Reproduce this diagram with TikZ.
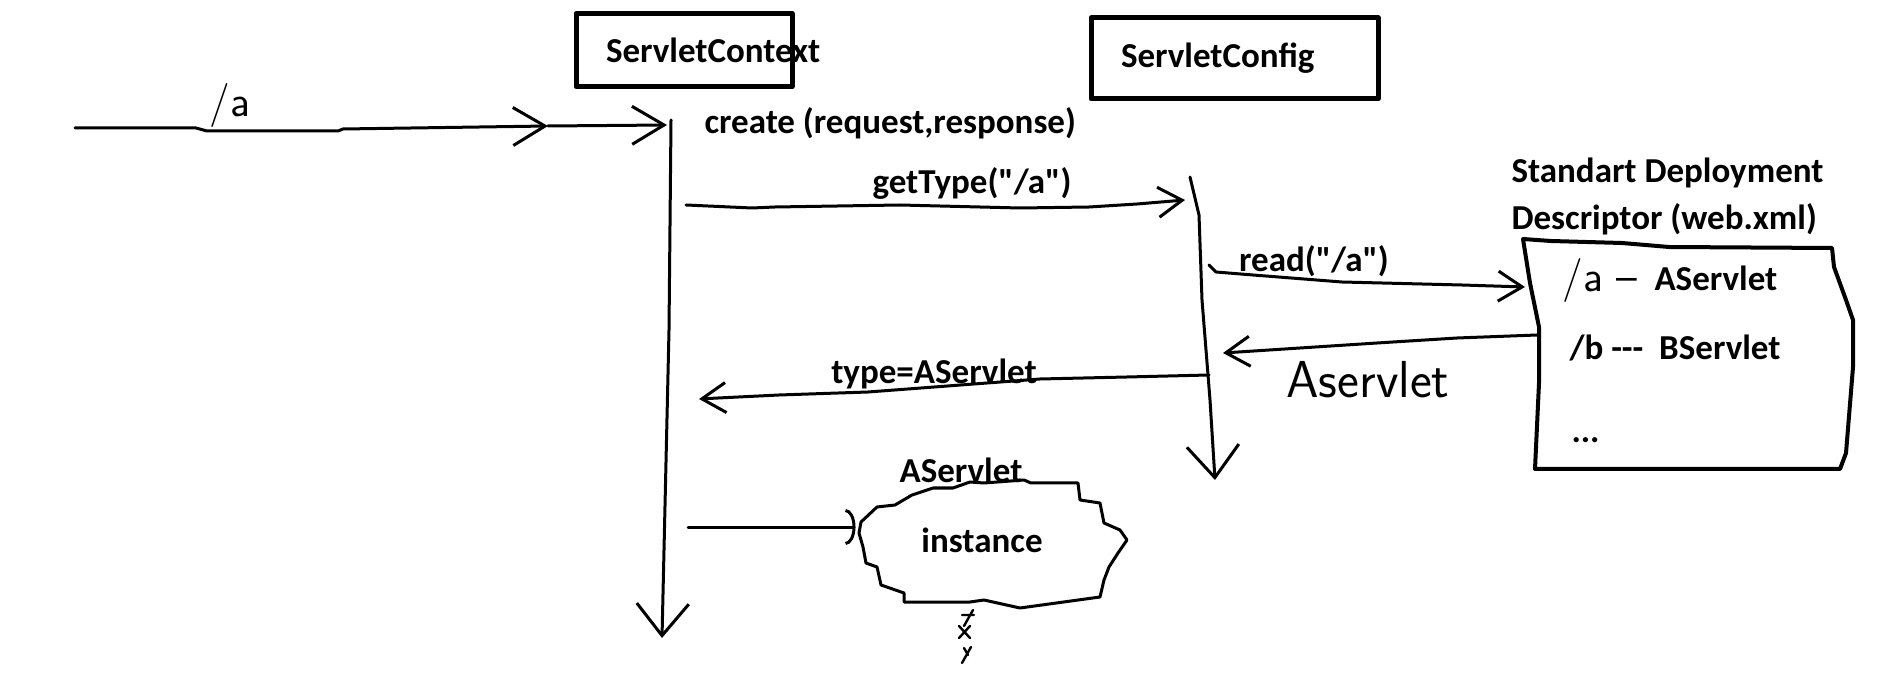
\documentclass[tikz,border=0pt]{standalone}
\usepackage{fontspec}
\setmainfont{Carlito}[Ligatures=TeXOff]
\usetikzlibrary{arrows.meta,positioning}

\begin{document}
\begin{tikzpicture}[x=0.5pt,y=-0.5pt,line width=1.5pt,line cap=round,line join=round,
  lbl/.style={font=\bfseries\fontsize{17.5}{21}\selectfont,inner sep=0pt},
  hand/.style={font=\sffamily\fontsize{24}{26}\selectfont,inner sep=0pt},
  objbox/.style={lbl,draw,line width=2.5pt},
  msg/.style={-{Straight Barb[length=12pt,width=15pt]}},
  entry/.style={-{Straight Barb[length=16pt,width=19pt]}},
  life/.style={-{Straight Barb[length=16pt,width=26pt]}}]
  \useasboundingbox (0,0) rectangle (1890,673);

  % objects
  \node[objbox,minimum width=108pt,minimum height=36.5pt] (ctx) at (684,50)
    {\hspace*{15pt}\makebox[93pt][l]{ServletContext}};
  \node[objbox,minimum width=143.5pt,minimum height=40.5pt] (cfg) at (1234.5,58.5)
    {\hspace*{15pt}\makebox[128.5pt][l]{\raisebox{-2.5pt}{ServletConfig}}};

  % incoming request
  \coordinate (src) at (75,128);
  \coordinate (mid) at (548,126);
  \coordinate (ctxIn) at (667,125);
  \node[hand,font=\sffamily\fontsize{22}{24}\selectfont] (inLbl) at (230,106) {/a};
  \draw[entry] (src) -- (196,128) -- (207,131) -- (338,131) -- (343,129) -- (mid);
  \draw[entry] (mid) -- (ctxIn);

  % lifelines
  \coordinate (ctxTop) at (671,120);
  \coordinate (ctxEnd) at (662,638);
  \draw[life] (ctxTop) -- (669,330) -- (ctxEnd);
  \coordinate (cfgTop) at (1190,177);
  \coordinate (cfgEnd) at (1215,480);
  \draw[life] (cfgTop) -- (1199,215) -- (1202,300) -- (1210,400) -- (cfgEnd);

  \node[lbl,anchor=west] (create) at (703,123) {create (request,response)};

  % getType
  \coordinate (getS) at (686,205);
  \coordinate (getE) at (1185,200);
  \draw[msg] (getS) -- (752,208) -- (775,207) -- (900,205) -- (1020,208) -- (1089,207) -- (1137,204) -- (getE);
  \node[lbl] (getLbl) at (972,183) {getType("/a")};

  % read from descriptor
  \coordinate (readS) at (1209,265);
  \coordinate (readE) at (1525,287);
  \draw[msg] (readS) -- (1216,272) -- (1253,275) -- (1342,282) -- (1462,285) -- (readE);
  \node[lbl] (readLbl) at (1314,261) {read("/a")};

  % descriptor answers
  \coordinate (ansS) at (1537,335);
  \coordinate (ansE) at (1223,353);
  \draw[msg] (ansS) -- (1457,338) -- (1377,343) -- (ansE);
  \node[hand,font=\sffamily\fontsize{26}{28}\selectfont] (ansLbl) at (1368,380) {Aservlet};

  % type back to context
  \coordinate (typeS) at (1209,375);
  \coordinate (typeE) at (699,399);
  \draw[msg] (typeS) -- (1127,377) -- (1040,379) -- (868,392) -- (779,395) -- (718,398) -- (typeE);
  \node[lbl] (typeLbl) at (934,374) {type=AServlet};

  % descriptor sheet
  \node[lbl,anchor=west,align=left,font=\bfseries\fontsize{17.5}{23.5}\selectfont] (ddTitle) at (1510,196)
    {Standart Deployment\\Descriptor (web.xml)};
  \draw[line width=2pt] (1523,239) -- (1551,241) -- (1622,243) -- (1669,247) -- (1832,248)
    -- (1834,267) -- (1846,300) -- (1853,320) -- (1853,367) -- (1846,453) -- (1840,469)
    -- (1535,469) -- (1539,383) -- (1539,327) -- (1530,283) -- cycle;
  \node[hand,anchor=west,font=\sffamily\fontsize{22}{24}\selectfont] (ddA) at (1561,281) {/a –};
  \node[lbl,anchor=west] (ddAS) at (1653,278) {AServlet};
  \node[lbl,anchor=west] (ddB) at (1568,348) {/b ---\ \ BServlet};
  \node[lbl,anchor=west] (ddC) at (1570,440) {...};

  % servlet instance
  \draw (861,522) -- (877,507) -- (895,505) -- (912,495) -- (933,488) -- (953,488) -- (970,482)
    -- (984,483) -- (1024,480) -- (1031,483) -- (1078,483) -- (1080,500) -- (1100,503)
    -- (1104,523) -- (1120,530) -- (1127,540) -- (1118,553) -- (1109,567) -- (1104,580)
    -- (1100,597) -- (1020,608) -- (984,600) -- (970,602) -- (904,602) -- (904,593)
    -- (881,585) -- (877,567) -- (866,563) -- (863,547) -- (859,533) -- cycle;
  \node[lbl,minimum width=125pt,minimum height=50pt] (inst) at (982,540) {instance};
  \node[lbl] (instName) at (961,470) {AServlet};
  \coordinate (newS) at (688,527);
  \draw[-{Arc Barb[length=5pt,width=18pt]}] (newS) -- (newS -| inst.west);
  \draw[line width=1.2pt] (973,610) -- (964,626) (962,615) -- (974,615)
    (959,626) -- (970,638) (970,626) -- (959,638)
    (964,648) -- (968,655) (971,647) -- (962,663);
\end{tikzpicture}
\end{document}
